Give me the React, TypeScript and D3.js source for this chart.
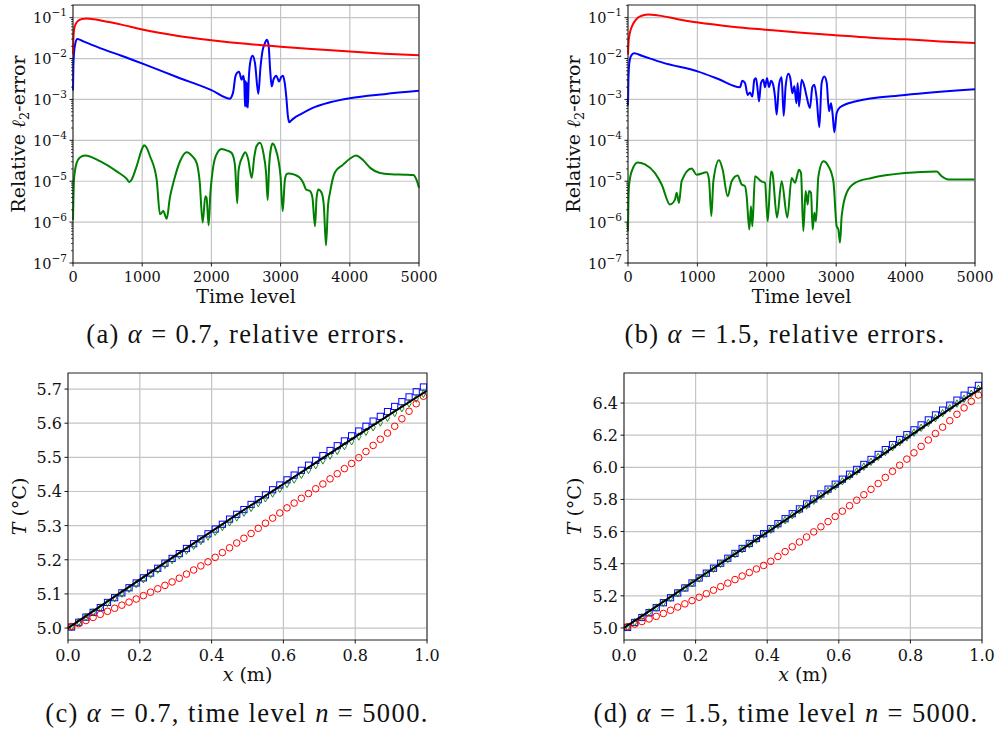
import React from "react";
import * as d3 from "d3";

// ---------------- DATA ----------------
// Top panels: [time level, log10(relative l2 error)]
const redA: number[][] = [[0,-1.9],[5,-1.55],[15,-1.3],[40,-1.15],[80,-1.07],[130,-1.03],[200,-1.02],[300,-1.04],[500,-1.1],[700,-1.17],[1000,-1.29],[1500,-1.44],[2000,-1.55],[2500,-1.64],[3000,-1.71],[3500,-1.77],[4000,-1.83],[4500,-1.88],[5000,-1.92]];
const blueA: number[][] = [[0,-2.78],[5,-2.2],[15,-1.86],[35,-1.62],[63,-1.52],[150,-1.58],[400,-1.75],[700,-1.93],[1015,-2.13],[1500,-2.45],[2000,-2.77],[2265,-2.98],[2300,-2.9],[2317,-2.8],[2345,-2.45],[2365,-2.36],[2400,-2.32],[2437,-2.52],[2461,-2.42],[2476,-2.6],[2486,-3.17],[2496,-2.55],[2506,-3.18],[2516,-2.6],[2526,-3.2],[2540,-2.5],[2568,-2.03],[2596,-1.93],[2630,-2.11],[2678,-2.86],[2710,-2.2],[2740,-1.8],[2774,-1.62],[2800,-1.54],[2825,-1.65],[2850,-2.3],[2871,-2.68],[2900,-2.5],[2939,-2.42],[2977,-2.56],[3010,-2.45],[3035,-2.42],[3060,-2.6],[3083,-2.95],[3105,-3.4],[3125,-3.56],[3150,-3.52],[3200,-3.45],[3280,-3.37],[3500,-3.18],[3714,-3.07],[4000,-2.97],[4500,-2.87],[5000,-2.79]];
const greenA: number[][] = [[0,-5.95],[5,-5.5],[14,-4.96],[53,-4.55],[100,-4.42],[173,-4.37],[390,-4.51],[631,-4.76],[780,-4.95],[814,-5.02],[850,-4.95],[920,-4.63],[1000,-4.2],[1026,-4.12],[1060,-4.17],[1113,-4.39],[1209,-4.96],[1257,-5.81],[1305,-5.73],[1354,-5.92],[1400,-5.4],[1450,-5.04],[1550,-4.5],[1643,-4.29],[1720,-4.38],[1787,-4.55],[1830,-5.0],[1874,-6.01],[1912,-5.37],[1930,-5.4],[1960,-6.08],[1985,-5.3],[2003,-4.96],[2060,-4.4],[2148,-4.21],[2230,-4.25],[2293,-4.31],[2340,-4.6],[2374,-5.54],[2390,-4.8],[2403,-4.63],[2450,-4.4],[2490,-4.29],[2530,-4.45],[2582,-4.92],[2620,-4.4],[2650,-4.15],[2702,-4.06],[2750,-4.3],[2790,-4.8],[2813,-5.46],[2835,-4.6],[2860,-4.2],[2885,-4.08],[2930,-4.22],[2967,-4.47],[3000,-4.9],[3030,-5.73],[3060,-5.0],[3085,-4.83],[3112,-4.81],[3200,-4.84],[3280,-4.92],[3330,-5.05],[3367,-5.2],[3425,-5.24],[3460,-5.4],[3497,-6.1],[3520,-5.4],[3545,-5.2],[3593,-5.28],[3625,-5.6],[3656,-6.57],[3685,-5.6],[3714,-5.28],[3760,-4.9],[3786,-4.78],[3900,-4.6],[4000,-4.45],[4089,-4.37],[4200,-4.5],[4300,-4.68],[4436,-4.8],[4600,-4.83],[4800,-4.84],[4918,-4.85],[4960,-4.95],[5000,-5.16]];

const redB: number[][] = [[0,-1.9],[10,-1.55],[30,-1.35],[60,-1.2],[100,-1.08],[150,-0.99],[220,-0.94],[290,-0.92],[450,-0.95],[700,-1.03],[1013,-1.12],[1500,-1.22],[2022,-1.3],[2500,-1.37],[2983,-1.43],[3500,-1.49],[3991,-1.53],[4500,-1.58],[5000,-1.62]];
const blueB: number[][] = [[0,-3.15],[5,-2.6],[14,-2.2],[30,-2.0],[53,-1.91],[90,-1.87],[200,-1.93],[500,-2.1],[1013,-2.32],[1300,-2.5],[1614,-2.7],[1647,-2.54],[1686,-2.6],[1724,-2.89],[1758,-2.83],[1792,-2.93],[1820,-2.52],[1844,-2.48],[1868,-2.76],[1888,-3.05],[1916,-2.6],[1950,-2.52],[1974,-2.7],[2003,-2.48],[2032,-2.7],[2061,-2.54],[2085,-2.6],[2118,-2.93],[2142,-3.37],[2176,-2.64],[2214,-2.46],[2243,-3.4],[2272,-2.67],[2310,-2.37],[2339,-2.48],[2368,-2.85],[2397,-2.68],[2426,-3.09],[2445,-2.6],[2464,-3.17],[2502,-2.52],[2541,-2.68],[2574,-2.93],[2622,-3.21],[2656,-2.7],[2685,-2.64],[2718,-2.97],[2757,-3.68],[2790,-2.6],[2829,-2.44],[2863,-2.59],[2896,-3.29],[2925,-3.09],[2949,-3.37],[2973,-3.8],[3007,-3.33],[3055,-3.19],[3271,-3.05],[3991,-2.89],[5000,-2.75]];
const greenB: number[][] = [[0,-6.22],[5,-5.6],[14,-5.12],[53,-4.76],[139,-4.54],[245,-4.59],[389,-4.8],[485,-5.08],[605,-5.57],[677,-5.45],[701,-5.28],[735,-5.53],[773,-5.0],[917,-4.69],[989,-4.84],[1134,-4.78],[1167,-4.96],[1201,-5.85],[1230,-5.0],[1311,-4.49],[1364,-4.72],[1436,-5.37],[1494,-5.0],[1580,-4.86],[1638,-5.08],[1686,-5.12],[1710,-5.37],[1748,-6.18],[1772,-5.61],[1792,-6.1],[1830,-4.88],[1916,-5.0],[1974,-5.04],[2013,-5.98],[2061,-4.76],[2080,-4.8],[2147,-5.89],[2214,-5.0],[2296,-5.89],[2358,-4.92],[2406,-5.04],[2464,-4.72],[2493,-4.8],[2526,-6.22],[2560,-5.24],[2589,-5.57],[2608,-5.24],[2637,-5.28],[2661,-6.18],[2685,-5.77],[2709,-5.98],[2743,-4.88],[2815,-4.51],[2887,-4.63],[2959,-5.0],[3007,-6.1],[3031,-6.18],[3055,-6.5],[3079,-5.85],[3151,-5.28],[3271,-5.04],[3511,-4.92],[3991,-4.8],[4448,-4.76],[4520,-4.88],[4616,-4.96],[4990,-4.96]];

const timeTicks = [0, 1000, 2000, 3000, 4000, 5000];
const decadeTicks = [-7, -6, -5, -4, -3, -2, -1];

// Bottom panels: node positions and temperatures
const nodeX = [0.01,0.03,0.05,0.07,0.09,0.11,0.13,0.15,0.17,0.19,0.21,0.23,0.25,0.27,0.29,0.31,0.33,0.35,0.37,0.39,0.41,0.43,0.45,0.47,0.49,0.51,0.53,0.55,0.57,0.59,0.61,0.63,0.65,0.67,0.69,0.71,0.73,0.75,0.77,0.79,0.81,0.83,0.85,0.87,0.89,0.91,0.93,0.95,0.97,0.99];
const exactX = [0, 0.1, 0.2, 0.3, 0.4, 0.5, 0.6, 0.7, 0.8, 0.9, 1.0];
const exactC = [5.0, 5.071, 5.142, 5.213, 5.283, 5.353, 5.422, 5.491, 5.56, 5.628, 5.695];
const exactD = [5.0, 5.148, 5.297, 5.446, 5.595, 5.745, 5.895, 6.045, 6.197, 6.348, 6.497];

const redC = [5.004,5.013,5.022,5.031,5.04,5.049,5.058,5.067,5.076,5.085,5.095,5.105,5.115,5.125,5.135,5.146,5.158,5.17,5.182,5.194,5.207,5.221,5.235,5.249,5.263,5.277,5.292,5.307,5.322,5.337,5.352,5.366,5.38,5.394,5.408,5.422,5.437,5.452,5.467,5.482,5.499,5.517,5.535,5.553,5.571,5.591,5.613,5.635,5.657,5.679];
const blueC = [5.003,5.017,5.032,5.046,5.06,5.075,5.089,5.103,5.118,5.132,5.147,5.161,5.175,5.19,5.204,5.218,5.233,5.247,5.261,5.276,5.29,5.304,5.319,5.333,5.347,5.362,5.376,5.39,5.405,5.419,5.434,5.448,5.462,5.477,5.491,5.505,5.52,5.534,5.548,5.563,5.577,5.591,5.606,5.62,5.634,5.649,5.663,5.677,5.692,5.706];
const greenC = [5.004,5.018,5.032,5.046,5.06,5.074,5.088,5.101,5.115,5.129,5.143,5.157,5.171,5.185,5.199,5.213,5.227,5.241,5.255,5.268,5.282,5.296,5.31,5.324,5.338,5.352,5.366,5.38,5.394,5.408,5.422,5.435,5.449,5.463,5.477,5.491,5.505,5.519,5.533,5.547,5.561,5.575,5.588,5.602,5.616,5.63,5.644,5.658,5.672,5.686];

const redD = [5.008,5.024,5.04,5.056,5.072,5.09,5.11,5.13,5.15,5.17,5.191,5.213,5.235,5.257,5.279,5.301,5.323,5.345,5.367,5.389,5.415,5.445,5.475,5.505,5.535,5.566,5.598,5.63,5.662,5.694,5.727,5.761,5.795,5.829,5.863,5.899,5.937,5.975,6.013,6.051,6.09,6.13,6.17,6.21,6.25,6.29,6.33,6.37,6.41,6.45];
const blueD = [5.003,5.034,5.065,5.095,5.126,5.157,5.188,5.218,5.249,5.28,5.311,5.341,5.372,5.403,5.434,5.464,5.495,5.526,5.557,5.587,5.618,5.649,5.68,5.711,5.741,5.772,5.803,5.834,5.864,5.895,5.926,5.957,5.987,6.018,6.049,6.08,6.11,6.141,6.172,6.203,6.233,6.264,6.295,6.326,6.356,6.387,6.418,6.449,6.479,6.51];
const greenD = [5.006,5.036,5.066,5.097,5.127,5.157,5.187,5.218,5.248,5.278,5.308,5.339,5.369,5.399,5.429,5.46,5.49,5.52,5.55,5.581,5.611,5.641,5.671,5.702,5.732,5.762,5.792,5.823,5.853,5.883,5.913,5.944,5.974,6.004,6.034,6.065,6.095,6.125,6.155,6.186,6.216,6.246,6.276,6.306,6.337,6.367,6.397,6.427,6.458,6.488];

const xTicks01 = [0, 0.2, 0.4, 0.6, 0.8, 1.0];
const xTickLabels01 = ["0.0", "0.2", "0.4", "0.6", "0.8", "1.0"];
const yTicksC = [5.0, 5.1, 5.2, 5.3, 5.4, 5.5, 5.6, 5.7];
const yTickLabelsC = ["5.0", "5.1", "5.2", "5.3", "5.4", "5.5", "5.6", "5.7"];
const yTicksD = [5.0, 5.2, 5.4, 5.6, 5.8, 6.0, 6.2, 6.4];
const yTickLabelsD = ["5.0", "5.2", "5.4", "5.6", "5.8", "6.0", "6.2", "6.4"];

// ---------------- STYLE ----------------
const FONT = "DejaVu Serif";
const CAPFONT = "Liberation Serif";
const GRID = "#c4c4c4";

function ErrorPanel({ l, r, t, b, red, blue, green, labelX }: any) {
  const x = d3.scaleLinear().domain([0, 5000]).range([l, r]);
  const y = d3.scaleLog().domain([1e-7, Math.pow(10, -0.69)]).range([b, t]);
  const line = d3
    .line<number[]>()
    .x((d) => x(d[0]))
    .y((d) => y(Math.pow(10, d[1])))
    .curve(d3.curveMonotoneX);
  const minor = y
    .ticks()
    .filter((v) => Math.abs(Math.log10(v) - Math.round(Math.log10(v))) > 1e-6);
  const cx = (l + r) / 2;
  const cy = (t + b) / 2;
  return (
    <g fontFamily={FONT}>
      {timeTicks.map((v) => (
        <line key={"gx" + v} x1={x(v)} x2={x(v)} y1={t} y2={b} stroke={GRID} strokeWidth={1.2} />
      ))}
      {decadeTicks.map((k) => (
        <line key={"gy" + k} x1={l} x2={r} y1={y(Math.pow(10, k))} y2={y(Math.pow(10, k))} stroke={GRID} strokeWidth={1.2} />
      ))}
      <path d={line(green) || ""} fill="none" stroke="#008000" strokeWidth={2} strokeLinejoin="round" />
      <path d={line(blue) || ""} fill="none" stroke="#0000ff" strokeWidth={2} strokeLinejoin="round" />
      <path d={line(red) || ""} fill="none" stroke="#ff0000" strokeWidth={2} strokeLinejoin="round" />
      <rect x={l} y={t} width={r - l} height={b - t} fill="none" stroke="#222" strokeWidth={1} />
      {timeTicks.map((v) => (
        <g key={"tx" + v}>
          <line x1={x(v)} x2={x(v)} y1={b} y2={b + 3.5} stroke="#000" strokeWidth={0.9} />
          <text x={x(v)} y={b + 19} fontSize={14.5} textAnchor="middle" fill="#111">{String(v)}</text>
        </g>
      ))}
      {minor.map((v, i) => (
        <line key={"mn" + i} x1={l - 2} x2={l} y1={y(v)} y2={y(v)} stroke="#000" strokeWidth={0.7} />
      ))}
      {decadeTicks.map((k) => (
        <g key={"ty" + k}>
          <line x1={l - 3.5} x2={l} y1={y(Math.pow(10, k))} y2={y(Math.pow(10, k))} stroke="#000" strokeWidth={0.9} />
          <text x={l - 6} y={y(Math.pow(10, k)) + 5.5} fontSize={14.5} textAnchor="end" fill="#111">
            10<tspan fontSize={10.5} dy={-7}>{"\u2212" + Math.abs(k)}</tspan>
          </text>
        </g>
      ))}
      <text x={cx} y={b + 40} fontSize={19} textAnchor="middle" fill="#111">Time level</text>
      <text transform={`translate(${labelX},${cy}) rotate(-90)`} fontSize={19} textAnchor="middle" fill="#111">
        Relative <tspan fontStyle="italic">ℓ</tspan>
        <tspan fontSize={13} dy={4}>2</tspan>
        <tspan dy={-4}>-error</tspan>
      </text>
    </g>
  );
}

function ProfilePanel({ l, r, t, b, yMin, yMax, yTicks, yLabels, exact, red, blue, green, labelX }: any) {
  const x = d3.scaleLinear().domain([0, 1]).range([l, r]);
  const y = d3.scaleLinear().domain([yMin, yMax]).range([b, t]);
  const line = d3
    .line<number>()
    .x((_, i) => x(exactX[i]))
    .y((d) => y(d));
  const diamond = d3.symbol().type(d3.symbolDiamond).size(16)() || "";
  const s = 6.2;
  return (
    <g fontFamily={FONT}>
      {xTicks01.map((v) => (
        <line key={"gx" + v} x1={x(v)} x2={x(v)} y1={t} y2={b} stroke={GRID} strokeWidth={1.2} />
      ))}
      {yTicks.map((v: number) => (
        <line key={"gy" + v} x1={l} x2={r} y1={y(v)} y2={y(v)} stroke={GRID} strokeWidth={1.2} />
      ))}
      {blue.map((v: number, i: number) => (
        <rect key={"b" + i} x={x(nodeX[i]) - s / 2} y={y(v) - s / 2} width={s} height={s} fill="none" stroke="#0000ff" strokeWidth={1} />
      ))}
      {green.map((v: number, i: number) => (
        <path key={"g" + i} d={diamond} transform={`translate(${x(nodeX[i])},${y(v)})`} fill="none" stroke="#008000" strokeWidth={0.9} />
      ))}
      {red.map((v: number, i: number) => (
        <circle key={"r" + i} cx={x(nodeX[i])} cy={y(v)} r={3.3} fill="none" stroke="#ff0000" strokeWidth={1} />
      ))}
      <path d={line(exact) || ""} fill="none" stroke="#000" strokeWidth={2} />
      <rect x={l} y={t} width={r - l} height={b - t} fill="none" stroke="#222" strokeWidth={1} />
      {xTicks01.map((v, i) => (
        <g key={"tx" + v}>
          <line x1={x(v)} x2={x(v)} y1={b} y2={b + 3.5} stroke="#000" strokeWidth={0.9} />
          <text x={x(v)} y={b + 21} fontSize={16} textAnchor="middle" fill="#111">{xTickLabels01[i]}</text>
        </g>
      ))}
      {yTicks.map((v: number, i: number) => (
        <g key={"ty" + v}>
          <line x1={l - 3.5} x2={l} y1={y(v)} y2={y(v)} stroke="#000" strokeWidth={0.9} />
          <text x={l - 6} y={y(v) + 6} fontSize={16} textAnchor="end" fill="#111">{yLabels[i]}</text>
        </g>
      ))}
      <text x={(l + r) / 2} y={b + 41} fontSize={19} textAnchor="middle" fill="#111">
        <tspan fontStyle="italic">x</tspan> (m)
      </text>
      <text transform={`translate(${labelX},${(t + b) / 2}) rotate(-90)`} fontSize={19} textAnchor="middle" fill="#111">
        <tspan fontStyle="italic">T</tspan> (°C)
      </text>
    </g>
  );
}

function Caption({ x, y, children }: any) {
  return (
    <text x={x} y={y} fontFamily={CAPFONT} fontSize={26.5} letterSpacing={1.4} textAnchor="middle" fill="#111">
      {children}
    </text>
  );
}

export default function App() {
  return (
    <svg width={999} height={733} style={{ position: "absolute", left: 0, top: 0, background: "#fff" }}>
      <rect x={0} y={0} width={999} height={733} fill="#fff" />
      <ErrorPanel l={73} r={419} t={5} b={263} red={redA} blue={blueA} green={greenA} labelX={25} />
      <ErrorPanel l={628} r={975} t={5} b={263} red={redB} blue={blueB} green={greenB} labelX={580} />
      <ProfilePanel l={68} r={427} t={373} b={640} yMin={4.965} yMax={5.747} yTicks={yTicksC} yLabels={yTickLabelsC} exact={exactC} red={redC} blue={blueC} green={greenC} labelX={26} />
      <ProfilePanel l={624} r={982} t={373} b={640} yMin={4.925} yMax={6.587} yTicks={yTicksD} yLabels={yTickLabelsD} exact={exactD} red={redD} blue={blueD} green={greenD} labelX={581} />
      <Caption x={246} y={343}>
        (a) <tspan fontStyle="italic">α</tspan> = 0.7, relative errors.
      </Caption>
      <Caption x={785} y={343}>
        (b) <tspan fontStyle="italic">α</tspan> = 1.5, relative errors.
      </Caption>
      <Caption x={237} y={722}>
        (c) <tspan fontStyle="italic">α</tspan> = 0.7, time level <tspan fontStyle="italic">n</tspan> = 5000.
      </Caption>
      <Caption x={786} y={722}>
        (d) <tspan fontStyle="italic">α</tspan> = 1.5, time level <tspan fontStyle="italic">n</tspan> = 5000.
      </Caption>
    </svg>
  );
}
